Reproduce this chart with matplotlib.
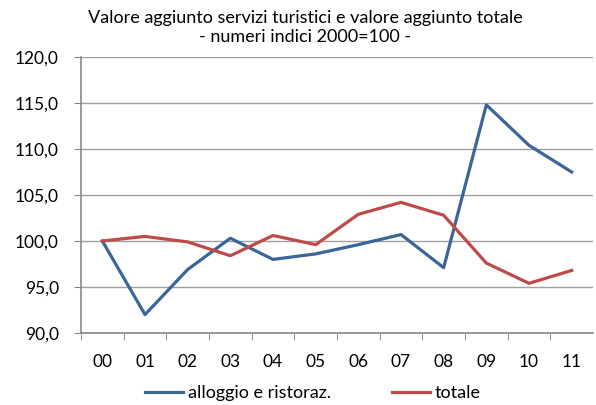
import matplotlib
matplotlib.use("Agg")
from matplotlib import pyplot as plt
from matplotlib import ticker

# Data
years = ["00", "01", "02", "03", "04", "05", "06", "07", "08", "09", "10", "11"]
alloggio = [100.0, 92.0, 96.9, 100.3, 98.0, 98.6, 99.6, 100.7, 97.1, 114.8, 110.4, 107.5]
totale = [100.0, 100.5, 99.9, 98.4, 100.6, 99.6, 102.9, 104.2, 102.8, 97.6, 95.4, 96.8]

plt.rcParams["font.family"] = ["Lato", "DejaVu Sans"]

fig = plt.figure(figsize=(5.96, 4.05), dpi=100)
ax = fig.add_axes([81 / 596, 1 - 333 / 405, 512 / 596, 276 / 405])

x = list(range(len(years)))
ax.plot(x, alloggio, color="#3A6698", lw=2.3, label="alloggio e ristoraz.")
ax.plot(x, totale, color="#BE4B48", lw=2.3, label="totale")

ax.set_xlim(-0.5, len(years) - 0.5)
ax.set_ylim(90, 120)
ax.yaxis.set_major_locator(ticker.MultipleLocator(5))
ax.yaxis.set_major_formatter(ticker.FuncFormatter(lambda v, p: f"{v:.1f}".replace(".", ",")))
ax.set_xticks(x)
ax.set_xticklabels(years)
ax.set_xticks([i - 0.5 for i in range(len(years))], minor=True)

ax.grid(axis="y", color="#A0A0A0", lw=1)
ax.set_axisbelow(True)
for side in ["top", "right"]:
    ax.spines[side].set_visible(False)
for side in ["left", "bottom"]:
    ax.spines[side].set_color("#888888")
    ax.spines[side].set_linewidth(1.2)

ax.tick_params(axis="x", which="major", length=0, pad=15, labelsize=12.5)
ax.tick_params(axis="x", which="minor", length=5, color="#888888")
ax.tick_params(axis="y", length=5, color="#888888", pad=11, labelsize=12.5)

fig.text(0.512, 0.932, "Valore aggiunto servizi turistici e valore aggiunto totale\n- numeri indici 2000=100 -",
         ha="center", va="center", fontsize=13, linespacing=1.3)

fig.legend(loc="center", bbox_to_anchor=(0.525, 0.03), ncol=2, frameon=False,
           fontsize=13, handlelength=2.1, handletextpad=0.25, columnspacing=3.4)

fig.savefig("out.png", dpi=100)
